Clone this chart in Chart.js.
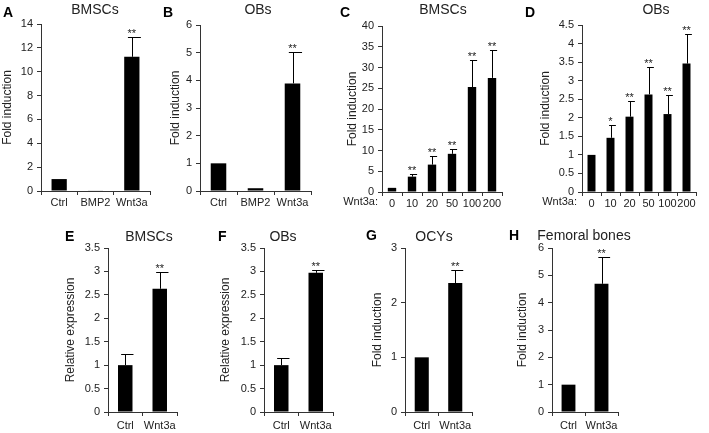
<!DOCTYPE html>
<html>
<head>
<meta charset="utf-8">
<script src="https://cdn.jsdelivr.net/npm/chart.js@4.4.1/dist/chart.umd.min.js"></script>
<style>
  html, body { margin: 0; padding: 0; background: #fff; }
  #wrap { position: relative; width: 709px; height: 433px; overflow: hidden; }
  #wrap canvas { position: absolute; left: 0; top: 0; }
</style>
</head>
<body>
<div id="wrap"></div>
<script>
// Categories
const treatLabels = ['Ctrl', 'BMP2', 'Wnt3a'];
const doseLabels = ['0', '10', '20', '50', '100', '200'];
const pairLabels = ['Ctrl', 'Wnt3a'];

// A - BMSCs, treatments
const bmscTreatMean = [1.0, 0.05, 11.25];
const bmscTreatErr = [0, 0, 1.63];
const bmscTreatStars = ['', '', '**'];

// B - OBs, treatments
const obTreatMean = [1.0, 0.1, 3.89];
const obTreatErr = [0, 0, 1.14];
const obTreatStars = ['', '', '**'];

// C - BMSCs, Wnt3a dose
const bmscDoseMean = [1.0, 3.7, 6.6, 9.2, 25.3, 27.5];
const bmscDoseErr = [0, 0.7, 2.1, 1.1, 6.6, 6.6];
const bmscDoseStars = ['', '**', '**', '**', '**', '**'];

// D - OBs, Wnt3a dose
const obDoseMean = [1.0, 1.46, 2.03, 2.63, 2.1, 3.46];
const obDoseErr = [0, 0.35, 0.41, 0.75, 0.52, 0.81];
const obDoseStars = ['', '*', '**', '**', '**', '**'];

// E - BMSCs relative expression
const bmscExprMean = [1.0, 2.63];
const bmscExprErr = [0.24, 0.36];
const bmscExprStars = ['', '**'];

// F - OBs relative expression
const obExprMean = [1.0, 2.97];
const obExprErr = [0.15, 0.06];
const obExprStars = ['', '**'];

// G - OCYs
const ocyMean = [1.0, 2.36];
const ocyErr = [0, 0.23];
const ocyStars = ['', '**'];

// H - femoral bones
const femurMean = [1.0, 4.69];
const femurErr = [0, 0.98];
const femurStars = ['', '**'];

const FONT = '"Liberation Sans", Arial, sans-serif';
const TEXT = '#222';
const AXIS = '#333';

Chart.defaults.font.family = FONT;
Chart.defaults.color = TEXT;

// layout: page coords of y-title left, axis, top tick, x end, zero line
const panels = [
  { letter: 'A', title: 'BMSCs', yTitle: 'Fold induction', labels: treatLabels,
    values: bmscTreatMean, errors: bmscTreatErr, stars: bmscTreatStars, yMax: 14, yStep: 2,
    box: { left: 0, axis: 41, top: 24, right: 150, zero: 191 }, titleAt: [95, 10], letterAt: [3, 13], xPad: 1 },
  { letter: 'B', title: 'OBs', yTitle: 'Fold induction', labels: treatLabels,
    values: obTreatMean, errors: obTreatErr, stars: obTreatStars, yMax: 6, yStep: 1,
    box: { left: 168, axis: 200, top: 25, right: 311, zero: 191 }, titleAt: [258, 10], letterAt: [163, 13], xPad: 1 },
  { letter: 'C', title: 'BMSCs', yTitle: 'Fold induction', labels: doseLabels,
    values: bmscDoseMean, errors: bmscDoseErr, stars: bmscDoseStars, yMax: 40, yStep: 5,
    box: { left: 345, axis: 382, top: 26, right: 502, zero: 192 }, titleAt: [443, 10], letterAt: [340, 13], xPad: 1,
    prefix: 'Wnt3a:', prefixAt: [378, 202] },
  { letter: 'D', title: 'OBs', yTitle: 'Fold induction', labels: doseLabels,
    values: obDoseMean, errors: obDoseErr, stars: obDoseStars, yMax: 4.5, yStep: 0.5,
    box: { left: 538, axis: 582, top: 25, right: 696, zero: 192 }, titleAt: [656, 10], letterAt: [525, 13], xPad: 1,
    prefix: 'Wnt3a:', prefixAt: [577, 202] },
  { letter: 'E', title: 'BMSCs', yTitle: 'Relative expression', labels: pairLabels,
    values: bmscExprMean, errors: bmscExprErr, stars: bmscExprStars, yMax: 3.5, yStep: 0.5,
    box: { left: 63, axis: 108, top: 248, right: 177, zero: 412 }, titleAt: [149, 237], letterAt: [65, 237], xPad: 3 },
  { letter: 'F', title: 'OBs', yTitle: 'Relative expression', labels: pairLabels,
    values: obExprMean, errors: obExprErr, stars: obExprStars, yMax: 3.5, yStep: 0.5,
    box: { left: 218, axis: 264, top: 248, right: 333, zero: 412 }, titleAt: [283, 237], letterAt: [218, 237], xPad: 3 },
  { letter: 'G', title: 'OCYs', yTitle: 'Fold induction', labels: pairLabels,
    values: ocyMean, errors: ocyErr, stars: ocyStars, yMax: 3, yStep: 1,
    box: { left: 370, axis: 405, top: 248, right: 472, zero: 412 }, titleAt: [434, 237], letterAt: [366, 236], xPad: 3 },
  { letter: 'H', title: 'Femoral bones', yTitle: 'Fold induction', labels: pairLabels,
    values: femurMean, errors: femurErr, stars: femurStars, yMax: 6, yStep: 1,
    box: { left: 515, axis: 552, top: 248, right: 618, zero: 412 }, titleAt: [584, 236], letterAt: [509, 236], xPad: 3 }
];

const W = 709, H = 433, X_AXIS_H = 18;

// error bars, significance stars and panel text
const annotate = {
  id: 'annotate',
  afterDatasetsDraw(chart, args, opts) {
    const p = opts.panel;
    const ctx = chart.ctx;
    const yScale = chart.scales.y;
    const meta = chart.getDatasetMeta(0);
    ctx.save();
    ctx.strokeStyle = '#000';
    ctx.lineWidth = 1;
    meta.data.forEach((bar, i) => {
      const yTop = Math.round(yScale.getPixelForValue(p.values[i] + p.errors[i])) + 0.5;
      const bw = bar.width;
      if (p.errors[i] > 0) {
        const x = Math.round(bar.x) + 0.5;
        ctx.beginPath();
        ctx.moveTo(x, yScale.getPixelForValue(p.values[i]));
        ctx.lineTo(x, yTop);
        ctx.moveTo(x - bw * 0.3, yTop);
        ctx.lineTo(x + bw * 0.55, yTop);
        ctx.stroke();
      }
      if (p.stars[i]) {
        ctx.fillStyle = TEXT;
        ctx.font = '11px ' + FONT;
        ctx.textAlign = 'center';
        ctx.textBaseline = 'alphabetic';
        ctx.fillText(p.stars[i], bar.x, yTop - 1);
      }
    });
    ctx.restore();
  },
  afterDraw(chart, args, opts) {
    const p = opts.panel;
    const ctx = chart.ctx;
    ctx.save();
    ctx.fillStyle = TEXT;
    ctx.textBaseline = 'middle';
    ctx.font = '14px ' + FONT;
    ctx.textAlign = 'center';
    ctx.fillText(p.title, p.titleAt[0], p.titleAt[1]);
    ctx.font = 'bold 14px ' + FONT;
    ctx.textAlign = 'left';
    ctx.fillStyle = '#000';
    ctx.fillText(p.letter, p.letterAt[0], p.letterAt[1]);
    if (p.prefix) {
      ctx.fillStyle = TEXT;
      ctx.font = '11px ' + FONT;
      ctx.textAlign = 'right';
      ctx.fillText(p.prefix, p.prefixAt[0], p.prefixAt[1]);
    }
    ctx.restore();
  }
};

const wrap = document.getElementById('wrap');

panels.forEach((p) => {
  const canvas = document.createElement('canvas');
  canvas.width = W;
  canvas.height = H;
  wrap.appendChild(canvas);
  const b = p.box;

  new Chart(canvas, {
    type: 'bar',
    data: {
      labels: p.labels,
      datasets: [{
        data: p.values,
        backgroundColor: '#000',
        borderWidth: 0,
        categoryPercentage: 1,
        barPercentage: 0.42
      }]
    },
    options: {
      responsive: false,
      animation: false,
      devicePixelRatio: 1,
      events: [],
      layout: {
        padding: { left: b.left, top: b.top, right: W - b.right, bottom: H - b.zero - X_AXIS_H }
      },
      plugins: {
        legend: { display: false },
        tooltip: { enabled: false },
        annotate: { panel: p }
      },
      scales: {
        x: {
          afterFit: (s) => { s.height = X_AXIS_H; },
          border: { display: true, color: AXIS, width: 1 },
          grid: { offset: true, drawOnChartArea: false, drawTicks: true, tickLength: 4, color: AXIS },
          ticks: { color: TEXT, font: { size: 11 }, padding: p.xPad, autoSkip: false, maxRotation: 0, minRotation: 0 }
        },
        y: {
          min: 0,
          max: p.yMax,
          afterFit: (s) => { s.width = b.axis - b.left; },
          border: { display: true, color: AXIS, width: 1 },
          grid: { drawOnChartArea: false, drawTicks: true, tickLength: 4, color: AXIS },
          ticks: {
            stepSize: p.yStep,
            color: TEXT,
            font: { size: 11 },
            padding: 4,
            callback: (v) => String(+Number(v).toFixed(2))
          },
          title: {
            display: true,
            text: p.yTitle,
            color: TEXT,
            font: { size: 12 },
            padding: { top: 0, bottom: 0 }
          }
        }
      }
    },
    plugins: [annotate]
  });
});
</script>
</body>
</html>
